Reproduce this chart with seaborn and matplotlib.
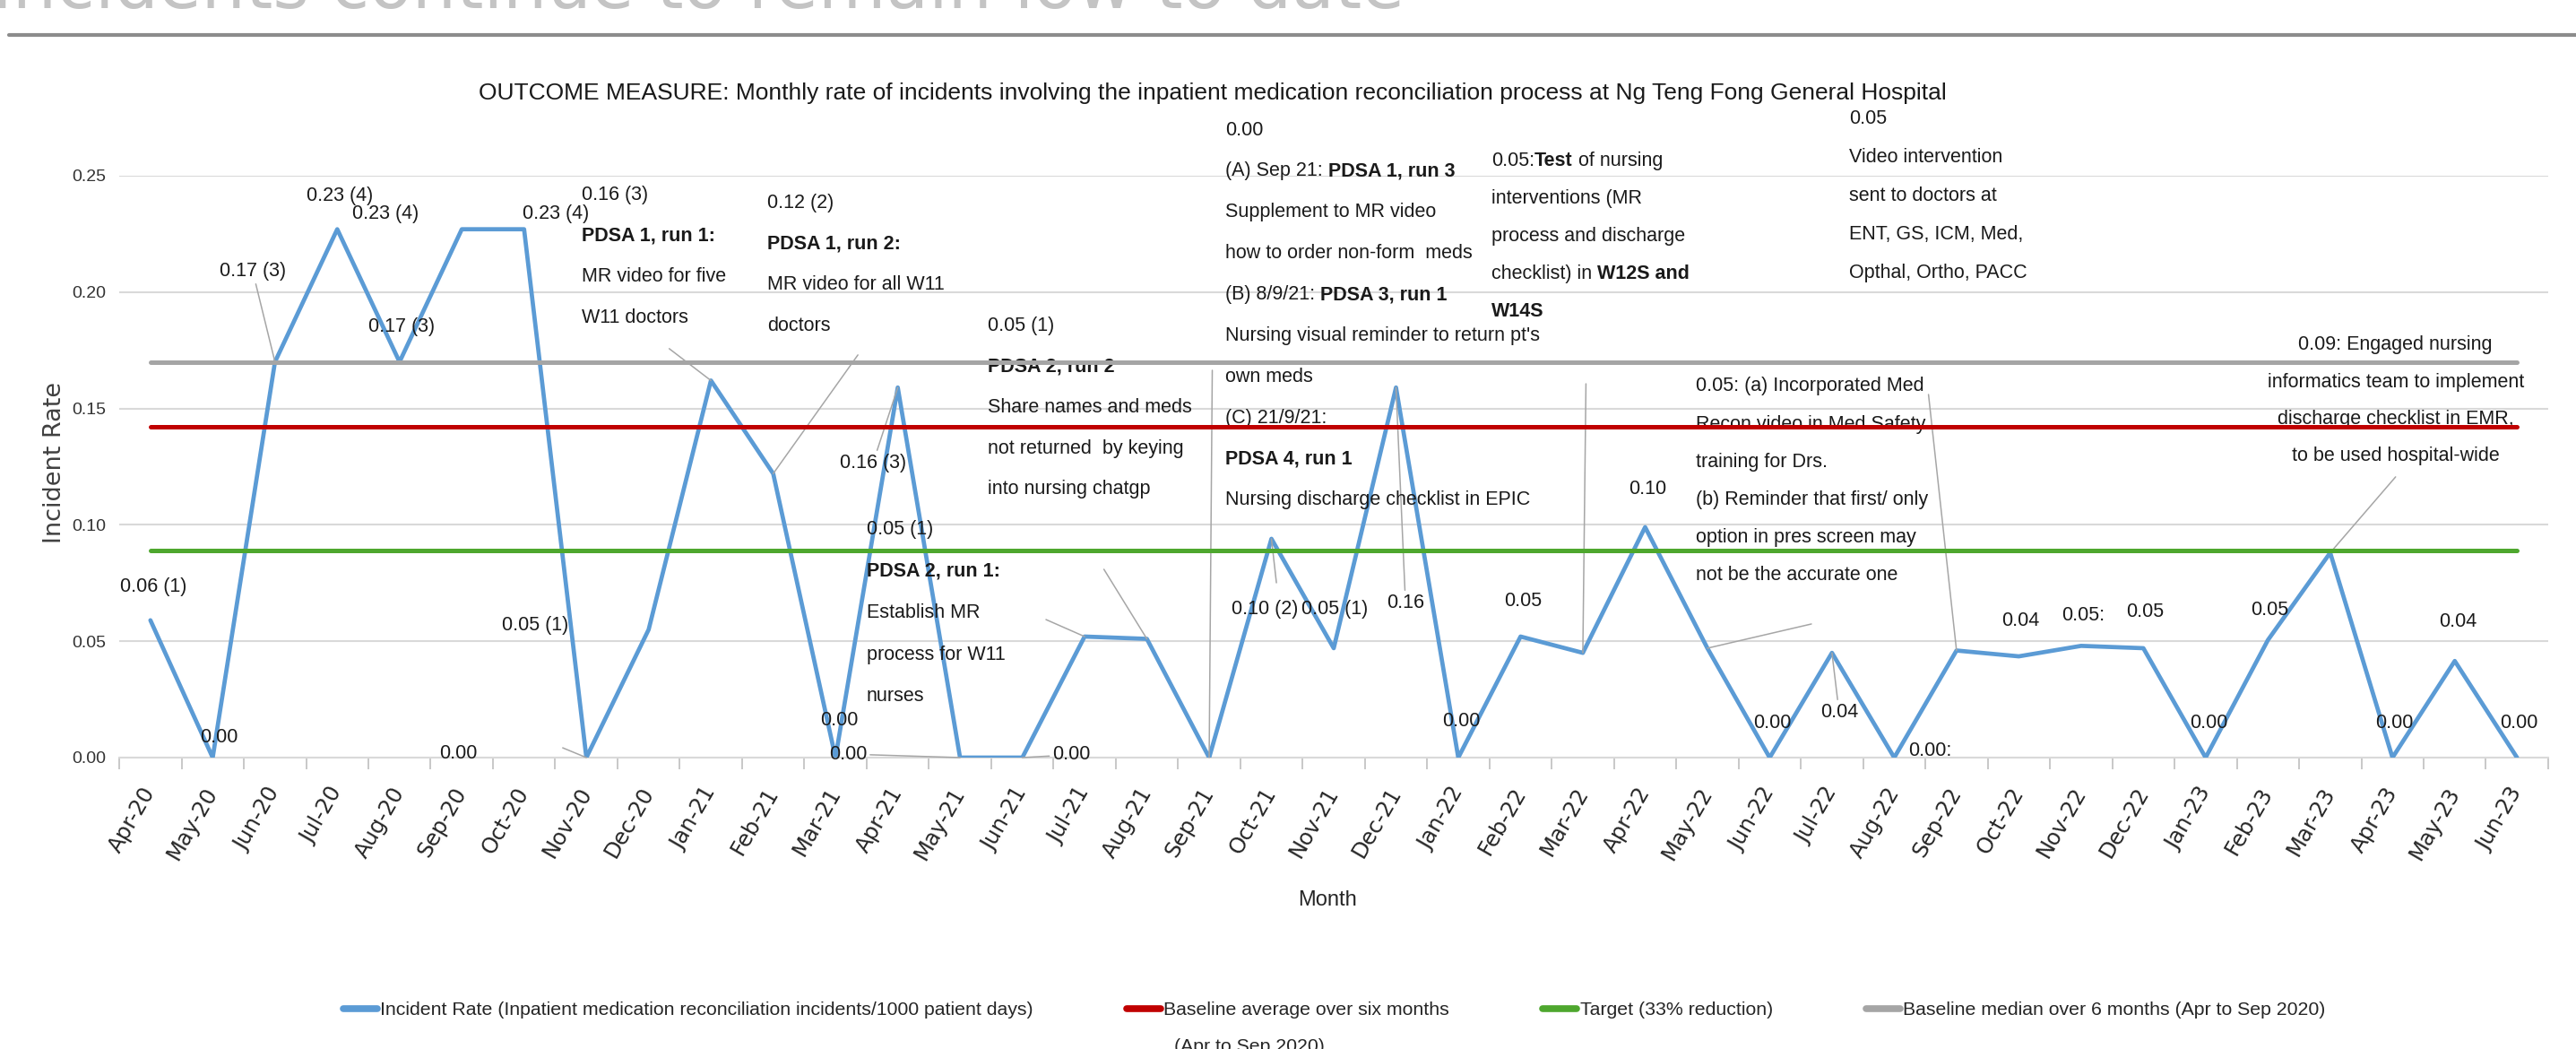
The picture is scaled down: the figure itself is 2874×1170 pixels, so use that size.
import numpy as np
import pandas as pd
import matplotlib
matplotlib.use("Agg")
import matplotlib.pyplot as plt
from matplotlib.lines import Line2D
import seaborn as sns

# ── data ────────────────────────────────────────────────────────
MONTHS = [
    "Apr-20", "May-20", "Jun-20", "Jul-20", "Aug-20", "Sep-20", "Oct-20",
    "Nov-20", "Dec-20", "Jan-21", "Feb-21", "Mar-21", "Apr-21", "May-21",
    "Jun-21", "Jul-21", "Aug-21", "Sep-21", "Oct-21", "Nov-21", "Dec-21",
    "Jan-22", "Feb-22", "Mar-22", "Apr-22", "May-22", "Jun-22", "Jul-22",
    "Aug-22", "Sep-22", "Oct-22", "Nov-22", "Dec-22", "Jan-23", "Feb-23",
    "Mar-23", "Apr-23", "May-23", "Jun-23",
]
RATE = [
    0.059, 0.000, 0.170, 0.227, 0.170, 0.227, 0.227,
    0.000, 0.055, 0.162, 0.122, 0.000, 0.159, 0.000,
    0.000, 0.052, 0.051, 0.000, 0.094, 0.047, 0.159,
    0.000, 0.052, 0.045, 0.099, 0.047, 0.000, 0.045,
    0.000, 0.046, 0.0435, 0.048, 0.047, 0.000, 0.0505,
    0.088, 0.000, 0.0415, 0.000,
]
BASELINE_AVG = 0.142
TARGET = 0.089
BASELINE_MEDIAN = 0.170
YTICKS = [0.00, 0.05, 0.10, 0.15, 0.20, 0.25]

LEGEND = [
    "Incident Rate (Inpatient medication reconciliation incidents/1000 patient days)",
    "Baseline average over six months",
    "Target (33% reduction)",
    "Baseline median over 6 months (Apr to Sep 2020)",
]
TITLE = ("OUTCOME MEASURE: Monthly rate of incidents involving the inpatient "
         "medication reconciliation process at Ng Teng Fong General Hospital")

BLUE, RED, GREEN, GREY = "#5B9BD5", "#C00000", "#4EA72E", "#A5A5A5"
TXT, LEAD = "#1a1a1a", "#A6A6A6"
FS = 15.5

sns.set_theme(style="white")
plt.rcParams["font.family"] = ["Liberation Sans", "DejaVu Sans"]

fig = plt.figure(figsize=(28.74, 11.70), dpi=100)
ax = fig.add_axes([0.0463, 0.2778, 0.9429, 0.5547])

df = pd.DataFrame({"month": MONTHS, "rate": RATE})
df["pos"] = np.arange(len(df))
df["avg"] = BASELINE_AVG
df["target"] = TARGET
df["median"] = BASELINE_MEDIAN

sns.lineplot(data=df, x="pos", y="rate", color=BLUE, linewidth=3.4,
             label=LEGEND[0], ax=ax, zorder=3)
sns.lineplot(data=df, x="pos", y="avg", color=RED, linewidth=3.6,
             label=LEGEND[1], ax=ax, zorder=4)
sns.lineplot(data=df, x="pos", y="target", color=GREEN, linewidth=3.6,
             label=LEGEND[2], ax=ax, zorder=4)
sns.lineplot(data=df, x="pos", y="median", color=GREY, linewidth=3.6,
             label=LEGEND[3], ax=ax, zorder=4)

handles, labels = ax.get_legend_handles_labels()
ax.get_legend().remove()

# axes cosmetics (Excel look)
ax.set_xlim(-0.5, len(MONTHS) - 0.5)
ax.set_ylim(0, 0.25)
ax.set_yticks(YTICKS)
ax.set_yticklabels([f"{t:.2f}" for t in YTICKS], fontsize=14, color="#333333")
ax.set_xticks(df["pos"])
ax.set_xticklabels(MONTHS, rotation=60, ha="right", va="center",
                   rotation_mode="anchor", fontfamily="DejaVu Sans",
                   fontsize=17.5, color="#262626")
ax.set_xticks(np.arange(-0.5, len(MONTHS)), minor=True)
ax.tick_params(axis="x", which="major", length=0, pad=25)
ax.tick_params(axis="x", which="minor", bottom=True, length=9,
               color="#BFBFBF", width=1.2, direction="out")
ax.tick_params(axis="y", length=0, pad=11)
ax.grid(axis="y", color="#D9D9D9", lw=1.5)
ax.grid(axis="x", visible=False)
for s in ax.spines.values():
    s.set_visible(False)
ax.spines["bottom"].set_visible(True)
ax.spines["bottom"].set_color("#D9D9D9")
ax.spines["bottom"].set_linewidth(1.5)

ax.set_xlabel("Month", fontsize=17, color="#262626")
ax.xaxis.set_label_coords(0.4974, -0.228)
ax.set_ylabel("Incident Rate", fontsize=19.5, fontfamily="DejaVu Sans",
              color="#404040")
ax.yaxis.set_label_coords(-0.0218, 0.507)


# ── annotation helpers ──────────────────────────────────────────
ARROW = dict(arrowstyle="-", color=LEAD, lw=1.1, shrinkA=0, shrinkB=0)


def label(x, y, s, to=None):
    kw = dict(fontsize=FS, color=TXT, ha="left", va="center")
    if to is None:
        return ax.text(x, y, s, **kw)
    return ax.annotate(s, xy=(to, RATE[to]), xytext=(x, y),
                       annotation_clip=False, arrowprops=ARROW, **kw)


def leader(x, y, to):
    ax.annotate("", xy=(to, RATE[to]), xytext=(x, y),
                annotation_clip=False, arrowprops=ARROW)


def rich(x, y, parts, ha="left"):
    prev = None
    for text, bold in parts:
        w = "bold" if bold else "normal"
        if prev is None:
            prev = ax.text(x, y, text, fontsize=FS, color=TXT, ha=ha,
                           va="center", fontweight=w)
        else:
            prev = ax.annotate(text, xy=(1, 0), xycoords=prev, ha="left",
                               va="bottom", fontsize=FS, color=TXT,
                               fontweight=w, annotation_clip=False)


def block(x, y0, step, lines, ha="left"):
    for k, line in enumerate(lines):
        parts = [(line, False)] if isinstance(line, str) else line
        rich(x, y0 - k * step, parts, ha=ha)


# data labels
for s, x, y, to in [
    ("0.06 (1)", -0.486, 0.0732, None),
    ("0.00", 0.795, 0.0085, None),
    ("0.17 (3)", 1.11, 0.2088, 2),
    ("0.23 (4)", 2.507, 0.2415, None),
    ("0.23 (4)", 3.241, 0.2338, None),
    ("0.17 (3)", 3.5, 0.1849, None),
    ("0.00", 4.637, 0.0019, None),
    ("0.23 (4)", 5.975, 0.2338, None),
    ("0.05 (1)", 5.64, 0.0570, None),
    ("0.00", 10.75, 0.0158, None),
    ("0.00", 10.90, 0.0015, 13),
    ("0.16 (3)", 11.07, 0.1267, 12),
    ("0.00", 14.48, 0.0012, 14),
    ("0.10 (2)", 17.36, 0.0639, None),
    ("0.05 (1)", 18.48, 0.0636, None),
    ("0.16", 19.85, 0.0666, 20),
    ("0.00", 20.74, 0.0154, None),
    ("0.05", 21.73, 0.0674, None),
    ("0.10", 23.73, 0.1152, None),
    ("0.00", 25.73, 0.0150, None),
    ("0.04", 26.81, 0.0196, 27),
    ("0.00:", 28.23, 0.0027, None),
    ("0.04", 29.73, 0.0589, None),
    ("0.05:", 30.69, 0.0612, None),
    ("0.05", 31.72, 0.0624, None),
    ("0.00", 32.74, 0.0150, None),
    ("0.05", 33.73, 0.0632, None),
    ("0.00", 35.73, 0.0150, None),
    ("0.04", 36.75, 0.0582, None),
    ("0.00", 37.73, 0.0150, None),
]:
    label(x, y, s, to)

# free-standing leader lines to the points they describe
for x, y, to in [(8.33, 0.1757, 9), (11.36, 0.1730, 10), (6.62, 0.0042, 7),
                 (14.38, 0.0593, 15), (15.31, 0.0809, 16), (17.05, 0.1664, 17),
                 (18.08, 0.0751, 18), (23.05, 0.1606, 23), (26.67, 0.0574, 25),
                 (28.55, 0.1560, 29), (36.05, 0.1206, 35)]:
    leader(x, y, to)

# PDSA call-outs
block(6.924, 0.2419, 0.0177, [
    "0.16 (3)", [("PDSA 1, run 1:", True)], "MR video for five", "W11 doctors"])
block(9.90, 0.2381, 0.0175, [
    "0.12 (2)", [("PDSA 1, run 2:", True)], "MR video for all W11", "doctors"])
block(11.5, 0.0982, 0.0180, [
    "0.05 (1)", [("PDSA 2, run 1:", True)], "Establish MR", "process for W11",
    "nurses"])
block(13.44, 0.1853, 0.0175, [
    "0.05 (1)", [("PDSA 2, run 2", True)], "Share names and meds",
    "not returned  by keying", "into nursing chatgp"])
block(17.26, 0.2696, 0.01767, [
    "0.00",
    [("(A) Sep 21:", False), (" PDSA 1, run 3", True)],
    "Supplement to MR video",
    "how to order non-form  meds",
    [("(B) 8/9/21:", False), (" PDSA 3, run 1", True)],
    "Nursing visual reminder to return pt's",
    "own meds",
    "(C) 21/9/21:",
    [("PDSA 4, run 1", True)],
    "Nursing discharge checklist in EPIC"])
block(21.53, 0.2562, 0.0161, [
    [("0.05:", False), ("Test", True), (" of nursing", False)],
    "interventions (MR",
    "process and discharge",
    [("checklist) in", False), (" W12S and", True)],
    [("W14S", True)]])
block(24.81, 0.1595, 0.01626, [
    "0.05: (a) Incorporated Med", "Recon video in Med Safety",
    "training for Drs.", "(b) Reminder that first/ only",
    "option in pres screen may", "not be the accurate one"])
block(27.28, 0.2743, 0.01648, [
    "0.05", "Video intervention", "sent to doctors at", "ENT, GS, ICM, Med,",
    "Opthal, Ortho, PACC"])
block(36.05, 0.1772, 0.0159, [
    "0.09: Engaged nursing", "informatics team to implement",
    "discharge checklist in EMR,", "to be used hospital-wide"], ha="center")

# ── figure-level text, slide remnants and legend ────────────────
fig.text(-0.003, 1 - 9 / 1170, "Incidents continue to remain low to date",
         fontsize=56, color="#C4C4C4", va="baseline", ha="left",
         fontfamily="DejaVu Sans")
fig.add_artist(Line2D([10 / 2874, 1], [1 - 39 / 1170] * 2, color="#8C8C8C",
                      lw=3, transform=fig.transFigure))
fig.text(0.4708, 0.9111, TITLE, ha="center", va="center", fontsize=19,
         color=TXT)

leg = fig.legend(handles, labels, loc="center", bbox_to_anchor=(0.518, 0.0368),
                 ncol=4, frameon=False, fontsize=15.3, handlelength=1.8,
                 handletextpad=0.15, columnspacing=4.9, labelcolor="#262626")
for h in leg.legend_handles:
    h.set_linewidth(5.5)
fig.text(1310 / 2874, 1 - 1158 / 1170, "(Apr to Sep 2020)", fontsize=15.3,
         color="#262626", ha="left", va="top")

fig.savefig("out.png", dpi=100)
plt.close(fig)
